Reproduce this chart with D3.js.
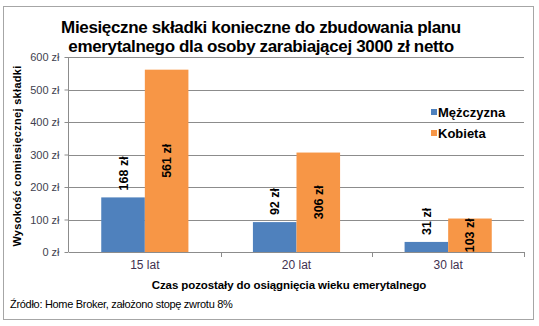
<!DOCTYPE html>
<html><head><meta charset="utf-8">
<script src="https://cdn.jsdelivr.net/npm/d3@7"></script>
<style>body{margin:0;background:#fff}svg{display:block}</style>
</head><body>
<svg id="c" width="539" height="326"></svg>
<script>
const categories = ["15 lat", "20 lat", "30 lat"];
const seriesNames = ["Mężczyzna", "Kobieta"];
const men = [168, 92, 31];
const women = [561, 306, 103];
const yTicks = [0, 100, 200, 300, 400, 500, 600];
const colors = ["#4F81BD", "#F79646"];
const titleLines = ["Miesięczne składki konieczne do zbudowania planu", "emerytalnego dla osoby zarabiającej 3000 zł netto"];

const svg = d3.select("#c");
const font = "Liberation Sans, Arial, sans-serif";
svg.append("rect").attr("x",3.5).attr("y",6.5).attr("width",530).attr("height",313)
  .attr("fill","#fff").attr("stroke","#a6a6a6");

const x0 = d3.scaleBand().domain(categories).range([69,524]);
const x1 = d3.scaleBand().domain(seriesNames).range([0, x0.bandwidth()]).paddingInner(0).paddingOuter(0.74);
const y = d3.scaleLinear().domain([0,600]).range([252,57]);

// gridlines
svg.append("g").selectAll("line").data(yTicks.filter(d=>d>0)).join("line")
  .attr("x1",69).attr("x2",524).attr("y1",d=>Math.round(y(d))+0.5).attr("y2",d=>Math.round(y(d))+0.5)
  .attr("stroke","#8c8c8c").attr("stroke-width",1);

// y axis
const ya = svg.append("g").attr("transform","translate(68.5,0)")
  .call(d3.axisLeft(y).tickValues(yTicks).tickSize(4).tickFormat(d=>d+" zł"));
ya.select(".domain").attr("stroke","#8c8c8c").attr("d","M0,57V252");
ya.selectAll(".tick line").attr("stroke","#8c8c8c");
ya.selectAll(".tick text").attr("font-family",font).attr("font-size",11).attr("fill","#3f3f4f").attr("x",-9);

// x axis
const xa = svg.append("g").attr("transform","translate(0,252.5)")
  .call(d3.axisBottom(x0).tickSize(0).tickPadding(8));
xa.select(".domain").remove();
xa.selectAll(".tick text").attr("font-family",font).attr("font-size",12).attr("fill","#3f3150");
svg.append("line").attr("x1",69).attr("x2",524).attr("y1",252.5).attr("y2",252.5).attr("stroke","#8c8c8c");
svg.append("g").selectAll("line").data(categories.slice(1).concat(["end"])).join("line")
  .attr("x1",(d,i)=>Math.round(69+x0.step()*(i+1))+0.5).attr("x2",(d,i)=>Math.round(69+x0.step()*(i+1))+0.5)
  .attr("y1",252).attr("y2",257).attr("stroke","#8c8c8c");

// bars
const data = categories.map((c,i)=>({c, vals:[men[i], women[i]]}));
const g = svg.append("g").selectAll("g").data(data).join("g")
  .attr("transform",d=>`translate(${x0(d.c)},0)`);
g.selectAll("rect").data(d=>d.vals.map((v,j)=>({v,s:seriesNames[j],j}))).join("rect")
  .attr("x",d=>x1(d.s)).attr("width",x1.bandwidth())
  .attr("y",d=>y(d.v)).attr("height",d=>y(0)-y(d.v)).attr("fill",d=>colors[d.j]);
g.selectAll("text").data(d=>d.vals.map((v,j)=>({v,s:seriesNames[j],j}))).join("text")
  .attr("transform",d=>{
    const cx = x1(d.s)+x1.bandwidth()/2;
    const cy = d.j===0 ? y(d.v)-7 : (y(d.v)+y(0))/2;
    return `translate(${cx+4.5},${cy}) rotate(-90)`;
  })
  .attr("text-anchor",d=>d.j===0?"start":"middle")
  .attr("font-family",font).attr("font-size",12.5).attr("font-weight","bold").attr("fill","#000")
  .text(d=>d.v+" zł");

// title
svg.append("text").attr("font-family",font).attr("font-size",17).attr("fill","#000")
  .attr("text-anchor","middle").attr("font-weight","bold").attr("letter-spacing","-0.35")
  .selectAll("tspan").data(titleLines).join("tspan")
  .attr("x",261).attr("y",(d,i)=>33+i*18.5).text(d=>d);

// axis titles
svg.append("text").attr("transform","translate(21,156) rotate(-90)").attr("text-anchor","middle")
  .attr("font-family",font).attr("font-size",11).attr("font-weight","bold").attr("fill","#000")
  .attr("letter-spacing","0.3").text("Wysokość comiesięcznej składki");
svg.append("text").attr("x",289).attr("y",289).attr("text-anchor","middle")
  .attr("font-family",font).attr("font-size",11.5).attr("font-weight","bold").attr("fill","#000")
  .attr("letter-spacing","-0.1").text("Czas pozostały do osiągnięcia wieku emerytalnego");

// source
svg.append("text").attr("x",10).attr("y",308).attr("font-family",font).attr("font-size",11)
  .attr("fill","#000").attr("letter-spacing","-0.3").text("Źródło: Home Broker, założono stopę zwrotu 8%");

// legend
const lg = svg.append("g").selectAll("g").data(seriesNames).join("g")
  .attr("transform",(d,i)=>`translate(431,${112+i*21})`);
lg.append("rect").attr("x",0).attr("y",-3).attr("width",6).attr("height",6).attr("fill",(d,i)=>colors[i]);
lg.append("text").attr("x",7).attr("y",4.5).attr("font-family",font).attr("font-size",13)
  .attr("font-weight","bold").attr("fill","#000").text(d=>d);
</script>
</body></html>
